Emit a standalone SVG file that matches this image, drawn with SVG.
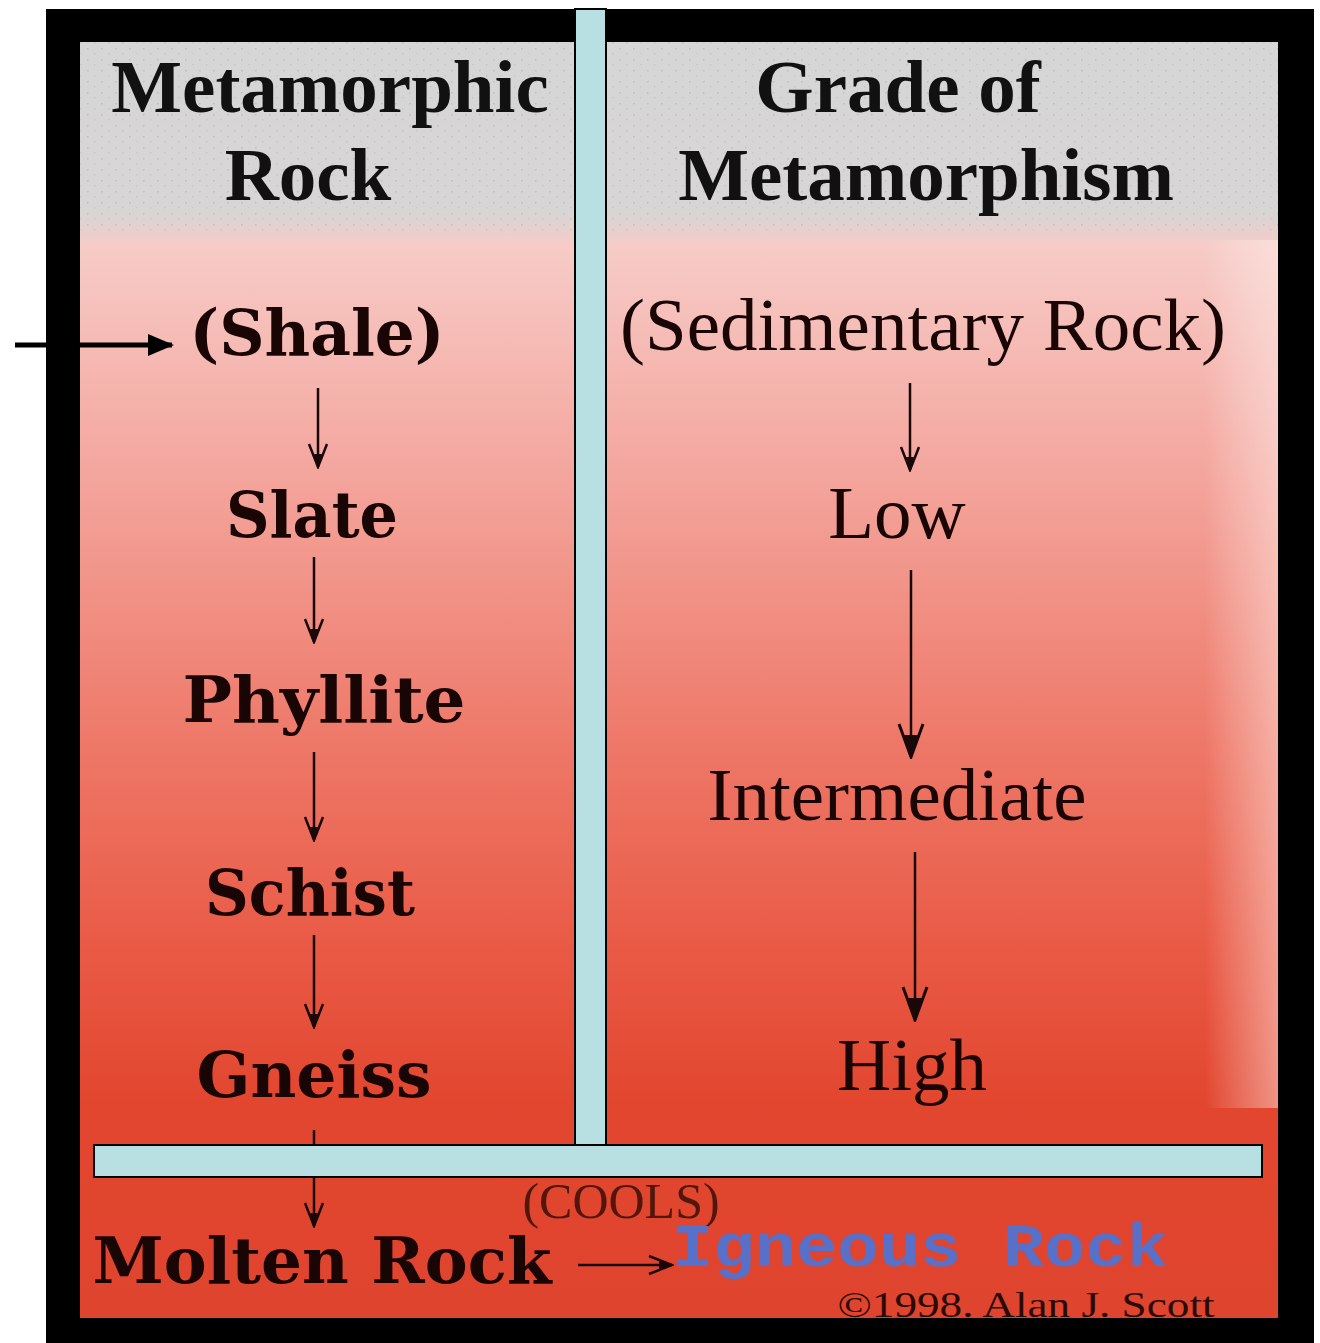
<svg xmlns="http://www.w3.org/2000/svg" width="1320" height="1343" viewBox="0 0 1320 1343">
  <style>
    .hdr { font-family: "Liberation Serif", "Times New Roman", serif; font-weight: bold; font-size: 75px; fill: #111; text-anchor: middle; }
    .rock { font-family: "DejaVu Serif", "Liberation Serif", serif; font-weight: bold; font-size: 64px; fill: #1a0505; text-anchor: middle; }
    .grade { font-family: "Liberation Serif", "Times New Roman", serif; font-size: 75px; fill: #1a0505; text-anchor: middle; }
    .conn { stroke: #1a0808; stroke-width: 2.5; fill: none; }
    .bar { fill: #b8dfe2; stroke: #000; stroke-width: 2; }
  </style>
  <defs>
    <linearGradient id="bg" x1="0" y1="42" x2="0" y2="1318" gradientUnits="userSpaceOnUse">
      <stop offset="0" stop-color="#d6d6d6"/>
      <stop offset="0.135" stop-color="#d8d5d5"/>
      <stop offset="0.16" stop-color="#f7cbc7"/>
      <stop offset="0.36" stop-color="#f3a198"/>
      <stop offset="0.555" stop-color="#ee7767"/>
      <stop offset="0.71" stop-color="#e95a45"/>
      <stop offset="0.83" stop-color="#e2462f"/>
      <stop offset="1" stop-color="#df442e"/>
    </linearGradient>
    <linearGradient id="strip" x1="1205" y1="0" x2="1278" y2="0" gradientUnits="userSpaceOnUse">
      <stop offset="0" stop-color="#ffffff" stop-opacity="0"/>
      <stop offset="1" stop-color="#fff2ee" stop-opacity="0.45"/>
    </linearGradient>
    <pattern id="dots" width="14" height="11" patternUnits="userSpaceOnUse">
      <rect x="3" y="4" width="1.5" height="1.5" fill="#888" opacity="0.5"/>
      <rect x="10" y="9" width="1.5" height="1.5" fill="#999" opacity="0.4"/>
    </pattern>
    <marker id="chev" markerUnits="userSpaceOnUse" markerWidth="26" markerHeight="22" refX="24" refY="11" orient="auto">
      <path d="M1,2 L24,11 L1,20" fill="none" stroke="#1a0808" stroke-width="2.5"/>
      <path d="M11,7 L24,11 L11,15 Z" fill="#1a0808"/>
    </marker>
    <marker id="chevBig" markerUnits="userSpaceOnUse" markerWidth="36" markerHeight="30" refX="34" refY="15" orient="auto">
      <path d="M1,3 L34,15 L1,27" fill="none" stroke="#1a0808" stroke-width="3"/>
      <path d="M12,8 L34,15 L12,22 Z" fill="#1a0808"/>
    </marker>
    <marker id="tri" markerUnits="userSpaceOnUse" markerWidth="26" markerHeight="22" refX="24" refY="11" orient="auto">
      <path d="M0,0 L26,11 L0,22 Z" fill="#000"/>
    </marker>
  </defs>

  <rect x="0" y="0" width="1320" height="1343" fill="#ffffff"/>
  <rect x="46" y="9" width="1268" height="1334" fill="#000"/>
  <rect x="80" y="42" width="1198" height="1276" fill="url(#bg)"/>
  <rect x="80" y="42" width="1198" height="190" fill="url(#dots)" opacity="0.6"/>
  <rect x="1205" y="240" width="73" height="868" fill="url(#strip)"/>

  <g id="connectors">
    <line class="conn" x1="318" y1="388" x2="318" y2="467" marker-end="url(#chev)"/>
    <line class="conn" x1="314" y1="557" x2="314" y2="642" marker-end="url(#chev)"/>
    <line class="conn" x1="314" y1="752" x2="314" y2="840" marker-end="url(#chev)"/>
    <line class="conn" x1="314" y1="935" x2="314" y2="1027" marker-end="url(#chev)"/>
    <line class="conn" x1="314" y1="1130" x2="314" y2="1226" marker-end="url(#chev)"/>
    <line class="conn" x1="910" y1="383" x2="910" y2="470" marker-end="url(#chev)"/>
    <line class="conn" x1="911" y1="570" x2="911" y2="757" marker-end="url(#chevBig)"/>
    <line class="conn" x1="915" y1="852" x2="915" y2="1020" marker-end="url(#chevBig)"/>
    <line class="conn" x1="578" y1="1265" x2="672" y2="1265" marker-end="url(#chev)"/>
    <line x1="15" y1="345" x2="172" y2="345" stroke="#000" stroke-width="5" marker-end="url(#tri)"/>
  </g>

  <g id="header-rock"><text class="hdr" x="330" y="112">Metamorphic</text><text class="hdr" x="308" y="200">Rock</text></g>
  <g id="header-grade"><text class="hdr" x="898" y="112">Grade of</text><text class="hdr" x="926" y="200">Metamorphism</text></g>

  <g id="shale"><text class="rock" x="317" y="355" textLength="255" lengthAdjust="spacingAndGlyphs">(Shale)</text></g>
  <g id="slate"><text class="rock" x="312" y="537" textLength="172" lengthAdjust="spacingAndGlyphs">Slate</text></g>
  <g id="phyllite"><text class="rock" x="324" y="722" textLength="283" lengthAdjust="spacingAndGlyphs">Phyllite</text></g>
  <g id="schist"><text class="rock" x="310" y="915" textLength="210" lengthAdjust="spacingAndGlyphs">Schist</text></g>
  <g id="gneiss"><text class="rock" x="314" y="1097" textLength="235" lengthAdjust="spacingAndGlyphs">Gneiss</text></g>
  <g id="molten"><text class="rock" x="322" y="1283" textLength="459" lengthAdjust="spacingAndGlyphs">Molten Rock</text></g>

  <g id="sedimentary"><text class="grade" x="923" y="350">(Sedimentary Rock)</text></g>
  <g id="low"><text class="grade" x="897" y="538">Low</text></g>
  <g id="intermediate"><text class="grade" x="897" y="820">Intermediate</text></g>
  <g id="high"><text class="grade" x="912" y="1090">High</text></g>

  <g id="cools"><text x="621" y="1218" font-family="Liberation Serif, serif" font-size="50" fill="#3a0e06" fill-opacity="0.85" text-anchor="middle">(COOLS)</text></g>
  <g id="igneous"><text x="920" y="1266" font-family="Liberation Mono, Courier New, monospace" font-weight="bold" font-size="62" fill="#5870c8" text-anchor="middle" textLength="496" lengthAdjust="spacingAndGlyphs">Igneous Rock</text></g>
  <g id="copyright"><text x="1026" y="1317" font-family="Liberation Serif, serif" font-size="36" fill="#2a0a05" text-anchor="middle" textLength="377" lengthAdjust="spacingAndGlyphs">©1998. Alan J. Scott</text></g>

  <g id="bar-vertical"><rect class="bar" x="575" y="9" width="31" height="1136"/></g>
  <g id="bar-horizontal"><rect class="bar" x="94" y="1145" width="1168" height="32"/></g>
</svg>
